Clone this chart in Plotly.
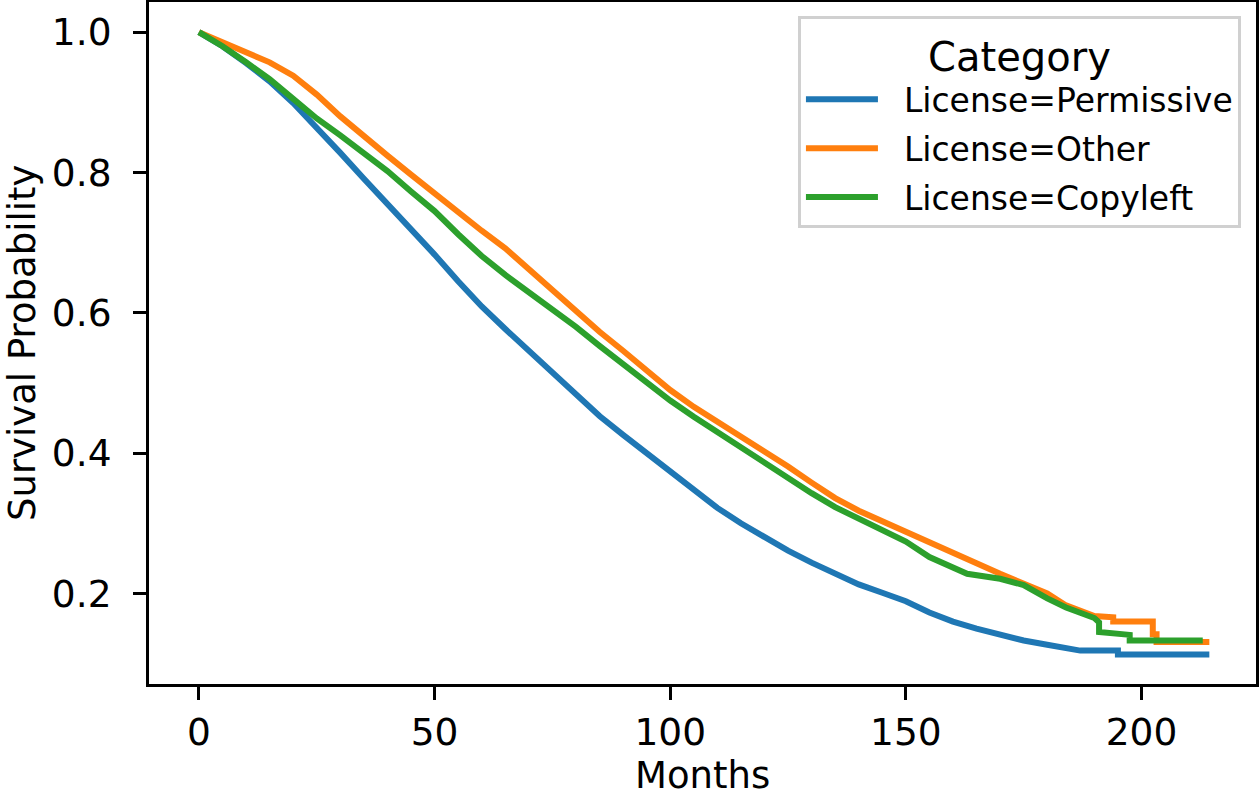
import plotly.graph_objects as go

# Kaplan-Meier style survival curves
perm_months = [0, 5, 10, 15, 20, 25, 30, 35, 40, 45, 50, 55, 60, 65, 70, 75, 80, 85, 90, 95,
               100, 105, 110, 115, 120, 125, 130, 135, 140, 145, 150, 155, 160, 165, 170, 175,
               180, 184, 187, 195, 195, 214.4]
perm_surv = [1.0, 0.98, 0.956, 0.93, 0.899, 0.865, 0.828, 0.791, 0.756, 0.72, 0.683, 0.645,
             0.609, 0.577, 0.546, 0.515, 0.483, 0.453, 0.426, 0.40, 0.374, 0.347, 0.322, 0.3,
             0.28, 0.261, 0.244, 0.228, 0.213, 0.201, 0.189, 0.173, 0.16, 0.15, 0.141, 0.133,
             0.127, 0.122, 0.1186, 0.1186, 0.113, 0.113]

other_months = [0, 5, 10, 15, 20, 25, 30, 35, 40, 45, 50, 55, 60, 65, 70, 75, 80, 85, 90, 95,
                100, 105, 110, 115, 120, 125, 130, 135, 140, 145, 150, 155, 160, 165, 170, 175,
                180, 184, 190, 194, 194, 202.4, 202.4, 203.2, 203.2, 214.4]
other_surv = [1.0, 0.985, 0.972, 0.957, 0.938, 0.911, 0.88, 0.851, 0.824, 0.797, 0.77, 0.742,
              0.717, 0.692, 0.662, 0.631, 0.601, 0.573, 0.546, 0.517, 0.49, 0.466, 0.445, 0.423,
              0.401, 0.381, 0.358, 0.336, 0.318, 0.304, 0.288, 0.273, 0.257, 0.243, 0.228, 0.215,
              0.2, 0.183, 0.168, 0.166, 0.160, 0.160, 0.142, 0.142, 0.131, 0.131]

copy_months = [0, 5, 10, 15, 20, 25, 30, 35, 40, 45, 50, 55, 60, 65, 70, 75, 80, 85, 90, 95,
               100, 105, 110, 115, 120, 125, 130, 135, 140, 145, 150, 155, 160, 163, 170, 175,
               180, 184, 190, 191, 191, 197.5, 197.5, 213]
copy_surv = [1.0, 0.98, 0.957, 0.933, 0.905, 0.877, 0.853, 0.828, 0.802, 0.773, 0.745, 0.712,
             0.681, 0.654, 0.63, 0.606, 0.58, 0.553, 0.527, 0.50, 0.475, 0.452, 0.43, 0.408,
             0.386, 0.364, 0.343, 0.323, 0.306, 0.291, 0.274, 0.252, 0.236, 0.228, 0.221, 0.212,
             0.193, 0.18, 0.165, 0.159, 0.145, 0.141, 0.133, 0.133]

series_names = ["License=Permissive", "License=Other", "License=Copyleft"]
series_colors = ["#1f77b4", "#ff7f0e", "#2ca02c"]

x_ticks = [0, 50, 100, 150, 200]
y_ticks = [0.2, 0.4, 0.6, 0.8, 1.0]
x_title = "Months"
y_title = "Survival Probability"

FONT = "DejaVu Sans"
GAP = "\u00a0\u00a0"  # spacing between legend line sample and label

fig = go.Figure()
for i, (mx, sv) in enumerate([(perm_months, perm_surv), (other_months, other_surv),
                              (copy_months, copy_surv)]):
    fig.add_trace(go.Scatter(
        x=mx, y=sv, mode="lines", name=GAP + series_names[i],
        line=dict(color=series_colors[i], width=6),
        legendgroup=series_names[i],
    ))

axis_common = dict(
    showline=True, linecolor="black", linewidth=3, mirror=True,
    ticks="outside", ticklen=13, tickwidth=2.5, tickcolor="black",
    showgrid=False, zeroline=False, automargin=False,
    tickfont=dict(family=FONT, size=37.5, color="black"),
)

fig.update_layout(
    width=1260, height=801,
    margin=dict(l=149, r=4, t=2, b=117),
    plot_bgcolor="white", paper_bgcolor="white",
    font=dict(family=FONT, color="black"),
    xaxis=dict(range=[-10.6, 224.3], tickvals=x_ticks, **axis_common),
    yaxis=dict(range=[0.071, 1.043], tickvals=y_ticks, tickformat=".1f",
               ticklabelstandoff=14, **axis_common),
    legend=dict(
        x=0.9864, y=0.979, xanchor="right", yanchor="top",
        bgcolor="white", bordercolor="#d0d0d0", borderwidth=3,
        font=dict(family=FONT, size=33, color="black"),
        title=dict(text="Category", side="top center", font=dict(family=FONT, size=40)),
        tracegroupgap=3, itemwidth=72,
    ),
    showlegend=True,
    annotations=[
        dict(text=x_title, xref="paper", yref="paper", x=0.5, y=-0.1014,
             xanchor="center", yanchor="top", showarrow=False, borderpad=0,
             font=dict(family=FONT, size=37, color="black")),
        dict(text=y_title, xref="paper", yref="paper", x=-0.1147, y=0.5,
             xanchor="center", yanchor="middle", showarrow=False, textangle=-90,
             borderpad=0, font=dict(family=FONT, size=37, color="black")),
    ],
)

fig.write_html("out.html")
